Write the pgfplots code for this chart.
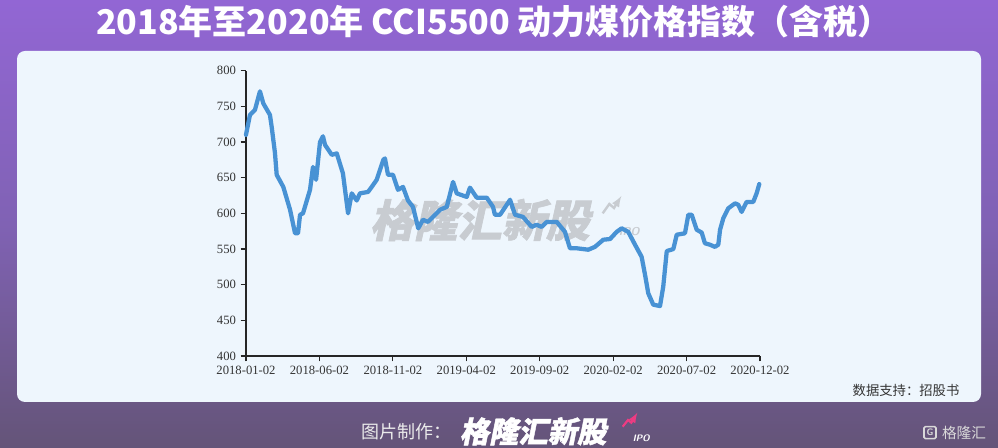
\documentclass[border=0pt]{standalone}
\usepackage{fontspec}
\setmainfont{Liberation Serif}
\newfontfamily\cjk{Noto Sans CJK SC}
\newfontfamily\cjkheavy{Noto Sans CJK SC}[BoldFeatures={FakeBold=1.5}]
\usepackage{pgfplots}
\usepackage{pgfplotstable}
\pgfplotsset{compat=1.18}

\definecolor{linec}{RGB}{72,146,212}
\definecolor{panel}{RGB}{238,246,253}
\definecolor{bgtop}{RGB}{146,102,212}
\definecolor{bgmid}{RGB}{128,98,180}
\definecolor{bgbot}{RGB}{100,84,120}
\definecolor{wm}{RGB}{200,204,209}
\definecolor{pinkc}{RGB}{236,60,130}

% x = months since 2018-01-02, y = index value
\pgfplotstableread{
m v
0.00 710
0.27 738
0.61 745
0.95 771
1.18 754
1.63 738
1.75 721
1.97 685
2.09 654
2.54 637
3.00 605
3.34 572
3.54 572
3.68 598
3.88 600
4.36 633
4.56 665
4.77 647
5.04 700
5.24 708
5.38 696
5.84 682
6.18 684
6.60 656
6.95 600
7.20 628
7.54 618
7.76 628
8.31 630
8.56 637
8.90 647
9.35 675
9.46 677
9.67 654
10.01 654
10.35 633
10.69 637
11.03 618
11.37 609
11.73 579
12.05 591
12.39 588
12.73 595
13.21 605
13.67 609
14.10 644
14.35 628
15.03 623
15.25 636
15.71 622
16.39 622
16.82 609
16.95 598
17.30 598
17.98 619
18.32 598
18.86 595
19.45 581
19.79 584
20.13 581
20.48 588
21.16 588
21.72 574
22.06 551
22.52 551
23.31 549
23.76 553
24.33 563
24.79 564
25.24 574
25.58 579
26.03 574
26.49 556
26.94 539
27.17 514
27.39 488
27.73 472
28.19 470
28.41 497
28.65 547
29.10 550
29.33 570
29.89 572
30.12 598
30.35 598
30.69 577
31.03 573
31.25 558
31.59 556
31.93 553
32.16 556
32.28 577
32.50 593
32.84 607
33.30 614
33.52 612
33.75 602
34.09 616
34.54 616
34.77 628
34.95 641
}\cci

\begin{document}
\begin{tikzpicture}
\path[use as bounding box] (0,0) rectangle (748.5pt,336pt);
\shade[top color=bgtop, bottom color=bgbot, middle color=bgmid] (0,0) rectangle (748.5pt,336pt);
\fill[panel, rounded corners=6pt] (12.75pt,34.5pt) rectangle (735.75pt,297.75pt);

% title
\node[text=white, font=\cjk\bfseries\fontsize{25.5}{28}\selectfont, inner sep=0pt] at (370.5pt,319.5pt)
  {2018年至2020年 CCI5500 动力煤价格指数（含税）};

% watermark
\begin{scope}[xslant=0.22]
\node[transform shape, text=wm, font=\cjkheavy\bfseries\fontsize{33}{36}\selectfont, inner sep=0pt] at (325pt,171pt) {格隆汇新股};
\end{scope}
\draw[wm, line width=1.8pt, -latex] (452pt,176pt) -- (457pt,183pt) -- (460.5pt,180pt) -- (466pt,189pt);
\node[text=wm, font=\sffamily\bfseries\itshape\fontsize{8.5}{9}\selectfont, inner sep=0pt] at (472pt,162.5pt) {IPO};

\begin{axis}[
  at={(184.5pt,69pt)}, anchor=south west,
  scale only axis, width=385.5pt, height=214pt,
  xmin=0, xmax=35, ymin=400, ymax=800,
  axis x line*=bottom, axis y line*=left,
  axis line style={black!85, line width=0.8pt, -},
  tick align=outside, major tick length=4pt,
  tick style={black!85, line width=0.8pt},
  xtick={0,5,10,15,20,25,30,35},
  xticklabels={2018-01-02,2018-06-02,2018-11-02,2019-04-02,2019-09-02,2020-02-02,2020-07-02,2020-12-02},
  ytick={400,450,500,550,600,650,700,750,800},
  ticklabel style={font=\fontsize{9.5}{11}\selectfont, text=black!80},
  /pgf/number format/assume math mode=true,
  /pgf/number format/1000 sep={},
  clip=false,
]
\addplot[linec, line width=3.2pt, line join=round, line cap=round] table[x=m, y=v] {\cci};
\end{axis}

% source
\node[text=black!80, font=\cjk\fontsize{10}{12}\selectfont, inner sep=0pt] at (679.5pt,43.5pt) {数据支持：招股书};

% footer
\node[text=white!92!black, font=\cjk\fontsize{13.5}{15}\selectfont, inner sep=0pt] at (305pt,12pt) {图片制作：};
\begin{scope}[xslant=0.2]
\node[transform shape, text=white, font=\cjkheavy\bfseries\fontsize{22}{24}\selectfont, inner sep=0pt] at (399pt,12.5pt) {格隆汇新股};
\end{scope}
\draw[pinkc, line width=1.6pt, -latex] (467pt,16pt) -- (471pt,21pt) -- (473.5pt,19pt) -- (478pt,26.5pt);
\node[text=white, font=\sffamily\bfseries\itshape\fontsize{7}{8}\selectfont, inner sep=0pt] at (481pt,7.5pt) {IPO};

% logo
\draw[white!85!black, line width=1.2pt, rounded corners=1pt] (693pt,7pt) rectangle (702pt,16pt);
\node[text=white!85!black, font=\sffamily\bfseries\fontsize{7}{8}\selectfont, inner sep=0pt] at (697.5pt,11.5pt) {G};
\node[text=white!85!black, font=\cjk\fontsize{11}{12}\selectfont, inner sep=0pt] at (723pt,11.5pt) {格隆汇};
\end{tikzpicture}
\end{document}
